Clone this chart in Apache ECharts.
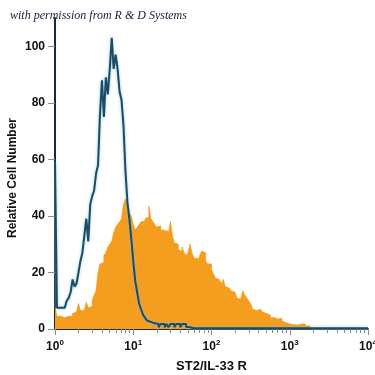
<!DOCTYPE html>
<html>
<head>
<meta charset="utf-8">
<script src="https://cdn.jsdelivr.net/npm/echarts@6/dist/echarts.min.js"></script>
<style>html,body{margin:0;padding:0;background:#fff}#c{width:375px;height:375px}</style>
</head>
<body>
<div id="c"></div>
<script>
// Histogram channels: 40 channels per decade, from 10^0 to 10^4
var channelsPerDecade = 40;
var minorTicks = [2,3,4,5,6,7,8,9,20,30,40,50,60,70,80,90,200,300,400,500,600,700,800,900,2000,3000,4000,5000,6000,7000,8000,9000];
var yTicks = [0, 20, 40, 60, 80, 100];

// Control (outline) histogram counts per channel
var controlCounts = [
  59, 7.5, 7.5, 7.5, 7.5, 8, 10, 11, 13, 17.5,
  15, 16, 20, 24, 27, 33, 39, 31, 44, 47,
  49, 55, 58, 76, 88, 75, 89, 83, 92, 103,
  92, 97, 92, 84, 81, 72, 56, 45, 39, 32,
  24, 17, 13, 9, 7, 5, 4, 3, 2.5, 2,
  2, 1.8, 1.8, 0.6, 1.8, 1.8, 0.6, 1.8, 0.6, 1.8,
  1.8, 0.6, 1.8, 1.8, 0.6, 1.8, 1.8, 0.8, 0.6, 0.4,
  0.3, 0.3, 0.3, 0.3, 0.3, 0.3, 0.3, 0.3, 0.3, 0.3,
  0.3, 0.3, 0.3, 0.3, 0.3, 0.3, 0.3, 0.3, 0.3, 0.3,
  0.3, 0.3, 0.3, 0.3, 0.3, 0.3, 0.3, 0.3, 0.3, 0.3,
  0.3, 0.3, 0.3, 0.3, 0.3, 0.3, 0.3, 0.3, 0.3, 0.3,
  0.3, 0.3, 0.3, 0.3, 0.3, 0.3, 0.3, 0.3, 0.3, 0.3,
  0.3, 0.3, 0.3, 0.3, 0.3, 0.3, 0.3, 0.3, 0.3, 0.3,
  0.3, 0.3, 0.3, 0.3, 0.3, 0.3, 0.3, 0.3, 0.3, 0.3,
  0.3, 0.3, 0.3, 0.3, 0.3, 0.3, 0.3, 0.3, 0.3, 0.3,
  0.3, 0.3, 0.3, 0.3, 0.3, 0.3, 0.3, 0.3, 0.3, 0.3
];

// ST2/IL-33 R stained (filled) histogram counts per channel
var stainedCounts = [
  7.5, 4.5, 4.5, 4, 4, 4, 4.5, 4.5, 4.5, 5.5,
  6, 6, 9, 6.5, 6.5, 6.5, 9.5, 7.5, 8, 10,
  12, 13.5, 20, 23, 23.5, 26, 27, 29, 30, 31,
  34, 36, 37, 38, 39, 44, 46, 45, 41, 40,
  37, 35, 36, 37, 38, 38, 39, 39.5, 43.5, 39,
  38, 37, 36, 36.5, 35, 35, 34, 35, 34, 38,
  33, 30.5, 30, 28, 27.5, 29, 27, 26, 27, 30,
  27, 25, 25, 24, 26, 27.5, 27, 24, 23, 23,
  21, 19.5, 18, 17.5, 17, 16, 17.5, 15, 14.5, 14,
  13.5, 13, 12.5, 11, 10.5, 11, 13.5, 12, 11, 10,
  9, 7, 6.5, 6.5, 7, 6.5, 6, 5.5, 5.5, 5,
  4, 4, 3.5, 3.5, 3.5, 3.8, 2.8, 2.3, 1.8, 1.8,
  1.5, 1.5, 1.4, 1.4, 1.5, 1.8, 1.2, 1.8, 1.0, 1.2,
  0.6, 0, 0, 0, 0, 0, 0, 0, 0, 0,
  0, 0, 0, 0, 0, 0, 0, 0, 0, 0,
  0, 0, 0, 0, 0, 0, 0, 0, 0, 0
];

function channelEdge(i) { return Math.pow(10, i / channelsPerDecade); }
function toSeries(counts) {
  var out = counts.map(function (v, i) { return [channelEdge(i), v]; });
  out.push([channelEdge(counts.length), counts[counts.length - 1]]);
  return out;
}

var FONT = '"Liberation Sans", Arial, sans-serif';
var chart = echarts.init(document.getElementById('c'), null, { renderer: 'canvas' });
chart.setOption({
  animation: false,
  backgroundColor: '#ffffff',
  grid: { left: 55, right: 7, top: 18, bottom: 46, containLabel: false, outerBoundsMode: 'none' },
  xAxis: [{
    type: 'log', logBase: 10, min: 1, max: 10000,
    name: 'ST2/IL-33 R', nameLocation: 'middle', nameGap: 31,
    nameTextStyle: { fontFamily: FONT, fontWeight: 'bold', fontSize: 13, color: '#111' },
    axisLine: { show: true, lineStyle: { color: '#1b2a38', width: 2 } },
    axisTick: { show: true, length: 6, lineStyle: { color: '#8a8a8a', width: 1 } },
    splitLine: { show: false },
    axisLabel: {
      margin: 10,
      formatter: function (v) { return '{b|10}{s|' + Math.round(Math.log10(v)) + '}'; },
      rich: {
        b: { fontFamily: FONT, fontWeight: 'bold', fontSize: 12, color: '#111', lineHeight: 14, verticalAlign: 'bottom' },
        s: { fontFamily: FONT, fontWeight: 'bold', fontSize: 8, color: '#111', lineHeight: 14, verticalAlign: 'top' }
      }
    }
  }, {
    type: 'log', logBase: 10, min: 1, max: 10000, position: 'bottom',
    axisLine: { show: false },
    axisTick: { show: true, length: 4, customValues: minorTicks, lineStyle: { color: '#8a8a8a', width: 1 } },
    axisLabel: { show: false },
    splitLine: { show: false }
  }],
  yAxis: {
    type: 'value', min: 0, max: 110,
    axisLine: { show: true, lineStyle: { color: '#1b2a38', width: 2 } },
    axisTick: { show: true, length: 7, customValues: yTicks, lineStyle: { color: '#8a8a8a', width: 1 } },
    axisLabel: { customValues: yTicks, margin: 10, fontFamily: FONT, fontWeight: 'bold', fontSize: 12, color: '#111' },
    splitLine: { show: false }
  },
  graphic: [{
    type: 'text', x: 7, y: 178, rotation: Math.PI / 2,
    style: { text: 'Relative Cell Number', fontFamily: FONT, fontWeight: 'bold', fontSize: 12, fill: '#111', textAlign: 'center', textVerticalAlign: 'top' }
  }, {
    type: 'text', x: 10, y: 10,
    style: { text: 'with permission from R & D Systems', fontFamily: '"Liberation Serif", serif', fontStyle: 'italic', fontSize: 12, fill: '#1a1d3a' }
  }],
  series: [{
    type: 'line', step: 'end', symbol: 'none', xAxisIndex: 0,
    data: toSeries(stainedCounts),
    lineStyle: { width: 0.8, color: '#f5a020' },
    areaStyle: { color: '#f59d1e', opacity: 1 },
    z: 2
  }, {
    type: 'line', step: 'end', symbol: 'none', xAxisIndex: 0,
    data: toSeries(controlCounts),
    lineStyle: { width: 2, color: '#1f4a60', shadowColor: 'rgba(120,200,235,0.9)', shadowBlur: 3 },
    z: 3
  }]
});
</script>
</body>
</html>
